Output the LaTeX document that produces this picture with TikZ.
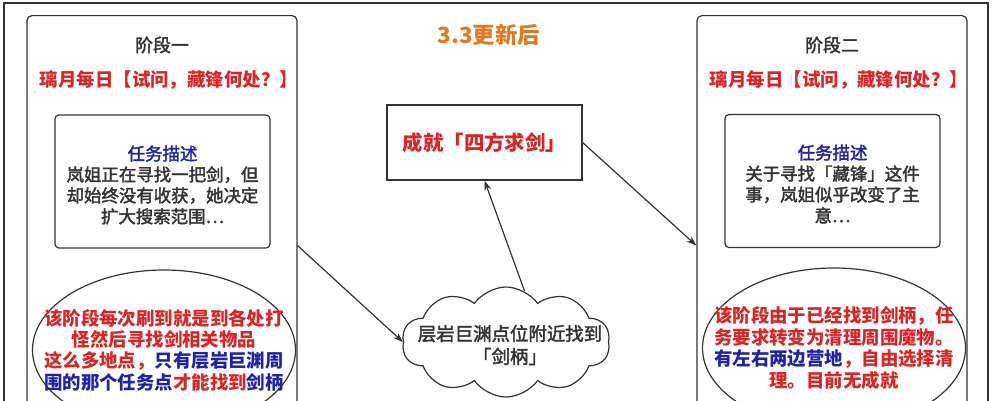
\documentclass[tikz,border=0pt]{standalone}
\usepackage{fontspec}
\setmainfont{Noto Sans CJK SC}
\newfontfamily\medfont[FakeBold=2.2]{Noto Sans CJK SC}
\usetikzlibrary{arrows.meta,shapes.geometric,shapes.symbols}
\definecolor{txtgray}{HTML}{333333}
\definecolor{hlred}{HTML}{DC2424}
\definecolor{hlblue}{HTML}{2020A8}
\definecolor{hlorange}{HTML}{E07A22}

\begin{document}
\begin{tikzpicture}[->,>={Stealth[length=10bp,width=7bp]},x=1bp,y=-1bp,line width=1.2bp,draw=txtgray,
    every node/.style={font=\fontsize{17.5}{21}\selectfont\medfont,text=txtgray,inner sep=0pt},
    phase/.style={draw=txtgray,rounded corners=5bp,minimum width=270bp,minimum height=460bp,anchor=north},
    task/.style={draw=txtgray,rounded corners=4bp,minimum width=215bp,minimum height=133bp},
    daily/.style={text=hlred,font=\fontsize{18.5}{21}\selectfont\bfseries},
    note/.style={draw=txtgray,ellipse,minimum width=263bp,minimum height=160bp},
    notetext/.style={align=center,text=hlred,font=\fontsize{18.5}{21.5}\selectfont\bfseries}]

  \useasboundingbox (0,0) rectangle (995,400);
  \draw[-] (4,3) rectangle (988,430);

  % title
  \node[text=hlorange,font=\fontsize{22.5}{26}\selectfont\bfseries] (upd) at (489,35) {3.3更新后};

  % phase one
  \node[phase] (ph1) at (162,15) {};
  \node[font=\fontsize{18}{21}\selectfont\medfont] (t1) at (162,45) {阶段一};
  \node[daily] (d1) at (169,80) {璃月每日【试问，藏锋何处？】};
  \node[task] (task1) at (162.5,181.5) {};
  \node[align=center] (desc1) at (162.5,185) {\textcolor{hlblue}{任务描述}\\岚姐正在寻找一把剑，但\\却始终没有收获，她决定\\扩大搜索范围…};
  \node[note] (n1) at (164,350) {};
  \node[notetext] (nt1) at (n1) {该阶段每次刷到就是到各处打\\怪然后寻找剑相关物品\\这么多地点，\textcolor{hlblue}{只有层岩巨渊周}\\\textcolor{hlblue}{围的那个任务点}才能找到\textcolor{hlblue}{剑柄}};

  % phase two
  \node[phase] (ph2) at (832,15) {};
  \node[font=\fontsize{18}{21}\selectfont\medfont] (t2) at (832,45) {阶段二};
  \node[daily] (d2) at (839,80) {璃月每日【试问，藏锋何处？】};
  \node[task] (task2) at (832.5,181) {};
  \node[align=center] (desc2) at (832.5,184) {\textcolor{hlblue}{任务描述}\\关于寻找「藏锋」这件\\事，岚姐似乎改变了主\\意…};
  \node[note] (n2) at (834,348) {};
  \node[notetext] (nt2) at (n2) {该阶段由于已经找到剑柄，任\\务要求转变为清理周围魔物。\\\textcolor{hlblue}{有左右两边营地}，自由选择清\\理。目前无成就};

  % middle
  \node[draw=txtgray,minimum width=195bp,minimum height=75bp,text=hlred,
    font=\fontsize{20.5}{24}\selectfont\bfseries] (ach) at (484.5,142.5) {成就「四方求剑」};
  \node[draw=txtgray,cloud,cloud puffs=10,cloud puff arc=110,cloud ignores aspect,
    minimum width=208bp,minimum height=110bp] (cld) at (506,342) {};
  \node[align=center,font=\fontsize{18.5}{23}\selectfont\medfont] (ct) at (510,345) {层岩巨渊点位附近找到\\「剑柄」};

  \draw (ph1.east) -- (cld.west);
  \draw (cld.70) -- (ach.south);
  \draw (ach.east) -- (ph2.west);

\end{tikzpicture}
\end{document}
